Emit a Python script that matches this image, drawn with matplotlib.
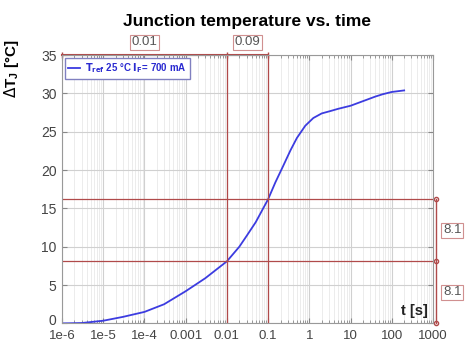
import numpy as np
import matplotlib.pyplot as plt
from matplotlib.transforms import ScaledTranslation

# curve
t = [1e-6, 3e-6, 1e-5, 3e-5, 1e-4, 3e-4, 1e-3, 3e-3, 0.01, 0.02, 0.03, 0.05,
     0.1, 0.15, 0.23, 0.35, 0.5, 0.8, 1.25, 2, 3.2, 5, 10, 20, 40, 60, 100, 200]
dT = [0, 0.05, 0.35, 0.85, 1.5, 2.5, 4.2, 5.9, 8.1, 10, 11.4, 13.2,
      16.2, 18.4, 20.5, 22.6, 24.2, 25.8, 26.8, 27.4, 27.7, 28.0, 28.4, 29.0,
      29.6, 29.9, 30.2, 30.4]

x_ticks = [1e-6, 1e-5, 1e-4, 1e-3, 1e-2, 1e-1, 1, 10, 100, 1000]
x_labels = ["1e-6", "1e-5", "1e-4", "0.001", "0.01", "0.1", "1", "10", "100", "1000"]
y_ticks = [0, 5, 10, 15, 20, 25, 30, 35]

# cursors
cur_x = [0.01, 0.1]
cur_y = [8.1, 16.2]

red = '#b04a4a'

plt.rcParams['font.family'] = ['Liberation Sans', 'DejaVu Sans']

fig = plt.figure(figsize=(4.69, 3.47), dpi=100)
ax = fig.add_axes([0.1322, 0.0680, 0.791, 0.773])

ax.set_xscale('log')
ax.set_xlim(1e-6, 1000)
ax.set_ylim(0, 35)

ax.grid(True, which='major', color='#d0d0d0', lw=0.8)
ax.grid(True, which='minor', axis='x', color='#e4e4e4', lw=0.5)

ax.plot(t, dT, color='#3c3ce0', lw=1.3, label=r'$\mathbf{T_{ref}}$ 25 °C $\mathbf{I_F}$= 700 mA')

# cursor lines
for cx in cur_x:
    ax.axvline(cx, color=red, lw=0.9)
for cy in cur_y:
    ax.axhline(cy, color=red, lw=0.9)

# cursor readouts along top
edges_x = [1e-6] + cur_x
ax.plot(edges_x, [35] * len(edges_x), color=red, lw=1.5, clip_on=False,
        marker='|', ms=5)
for a, b in zip(edges_x[:-1], edges_x[1:]):
    xm = np.sqrt(a * b)
    ax.text(xm, 35.9, f"{b - a:.2g}", ha='center', va='bottom', fontsize=9.5,
            color='#555555', clip_on=False,
            bbox=dict(boxstyle='square,pad=0.12', fc='white', ec='#d09090', lw=0.8))

# cursor readouts at right
edges_y = [0] + cur_y
ax.plot([1200] * len(edges_y), edges_y, color=red, lw=1.0, clip_on=False,
        marker='o', ms=3, mfc='none')
for a, b in zip(edges_y[:-1], edges_y[1:]):
    ax.text(1750, (a + b) / 2, f"{b - a:.1f}", ha='left', va='center', fontsize=9.5,
            color='#555555', clip_on=False,
            bbox=dict(boxstyle='square,pad=0.12', fc='white', ec='#d09090', lw=0.8))

ax.set_xticks(x_ticks)
ax.set_xticklabels(x_labels)
ax.set_yticks(y_ticks)
ax.tick_params(axis='both', which='both', direction='in', top=True, right=True,
               labelsize=10, colors='#888888', labelcolor='#444444')
ax.tick_params(axis='x', which='both', pad=5, labelsize=9.5)
ax.tick_params(axis='y', pad=4)
ax.tick_params(axis='x', which='minor', length=2)

# nudge the "0" label up a little so it clears "1e-6"
lab0 = ax.get_yticklabels()[0]
lab0.set_transform(lab0.get_transform() + ScaledTranslation(0, 3 / 72, fig.dpi_scale_trans))

for s in ax.spines.values():
    s.set_color('#999999')
    s.set_linewidth(0.8)

ax.set_title("Junction temperature vs. time", fontsize=12.5, fontweight='bold', pad=21)
ax.set_ylabel(r"$\Delta$T$_\mathregular{J}$ [°C]", fontsize=11, fontweight='bold')
ax.yaxis.set_label_coords(-0.11, 0.95)
ax.text(0.985, 0.02, "t [s]", transform=ax.transAxes, ha='right', va='bottom',
        fontsize=10.5, fontweight='bold', color='#222222')

leg = ax.legend(loc='upper left', fontsize=7, handlelength=1.2, handletextpad=0.5,
                borderpad=0.35, fancybox=False, framealpha=1, borderaxespad=0.3)
leg.get_frame().set_edgecolor('#8080c0')
for txt in leg.get_texts():
    txt.set_color('#2a2ad0')
    txt.set_fontweight('bold')

fig.savefig('out.png', dpi=100)
